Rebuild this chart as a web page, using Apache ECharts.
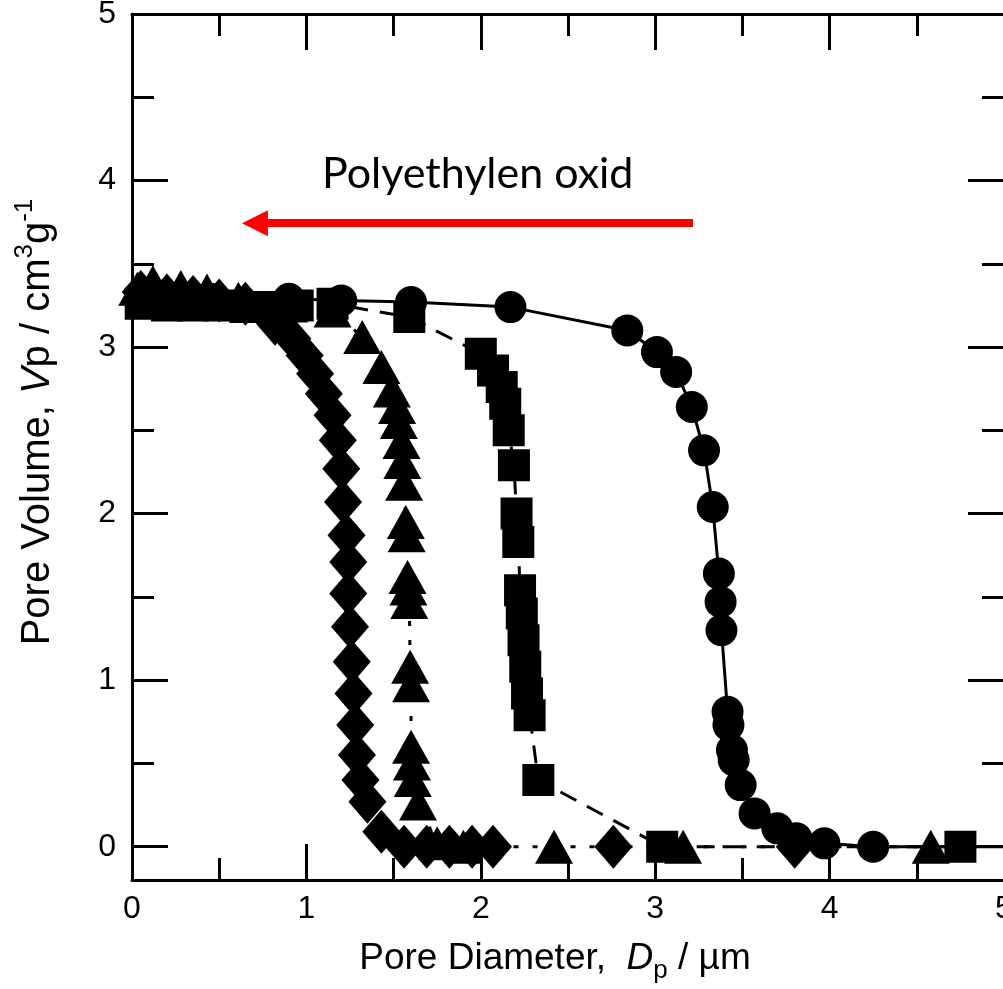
<!DOCTYPE html>
<html><head><meta charset="utf-8">
<script src="https://cdn.jsdelivr.net/npm/echarts@6/dist/echarts.min.js"></script>
<style>html,body{margin:0;padding:0;background:#fff}#c{width:1003px;height:989px}</style>
</head><body><div id="c"></div>
<script>
// ---- data (x = pore diameter in µm, y = pore volume in cm3/g) ----
const xMajorTicks = [0, 1, 2, 3, 4, 5];
const yMajorTicks = [0, 1, 2, 3, 4, 5];
const yMinorTicks = [0.5, 1.5, 2.5, 3.5, 4.5];

const circleData = [
  [0.05, 3.30], [0.45, 3.29], [0.90, 3.29], [1.20, 3.28], [1.60, 3.27], [2.17, 3.24],
  [2.84, 3.10], [3.01, 2.97], [3.12, 2.85], [3.21, 2.64], [3.28, 2.38], [3.33, 2.04],
  [3.365, 1.64], [3.375, 1.47], [3.38, 1.30], [3.415, 0.81], [3.42, 0.73], [3.44, 0.58],
  [3.45, 0.52], [3.49, 0.37], [3.57, 0.20], [3.70, 0.11], [3.81, 0.05], [3.97, 0.02],
  [4.25, 0.00], [5.20, 0.00]
];
const squareData = [
  [0.05, 3.26], [0.20, 3.25], [0.35, 3.25], [0.50, 3.25], [0.65, 3.24], [0.80, 3.24],
  [0.95, 3.25], [1.15, 3.26], [1.59, 3.18],
  [2.00, 2.96], [2.07, 2.86], [2.12, 2.76], [2.14, 2.66], [2.16, 2.50], [2.19, 2.29],
  [2.205, 2.00], [2.215, 1.83], [2.225, 1.54], [2.235, 1.40], [2.245, 1.24], [2.255, 1.08],
  [2.265, 0.92], [2.28, 0.79], [2.33, 0.40], [3.04, 0.00], [4.75, 0.00]
];
const triangleData = [
  [0.03, 3.35], [0.12, 3.39], [0.28, 3.36], [0.43, 3.34], [0.61, 3.29], [0.90, 3.25],
  [1.15, 3.22], [1.32, 3.06], [1.43, 2.88], [1.49, 2.74], [1.52, 2.64], [1.53, 2.55],
  [1.545, 2.43], [1.55, 2.31], [1.56, 2.18], [1.57, 1.95], [1.575, 1.87], [1.58, 1.62],
  [1.585, 1.55], [1.59, 1.47], [1.595, 1.08], [1.60, 0.97], [1.60, 0.60], [1.605, 0.50],
  [1.61, 0.40], [1.64, 0.26], [1.75, 0.02], [1.90, 0.00], [2.42, 0.00], [3.16, 0.00],
  [4.58, 0.00]
];
const diamondData = [
  [0.05, 3.33], [0.20, 3.31], [0.35, 3.30], [0.50, 3.28], [0.65, 3.26], [0.82, 3.14],
  [0.92, 3.05], [0.99, 2.95], [1.05, 2.84],
  [1.10, 2.72], [1.15, 2.59], [1.18, 2.44], [1.20, 2.27], [1.21, 2.07], [1.23, 1.87],
  [1.24, 1.71], [1.24, 1.52], [1.25, 1.32], [1.26, 1.11], [1.27, 0.92], [1.28, 0.73],
  [1.29, 0.55], [1.31, 0.40], [1.35, 0.27], [1.43, 0.09], [1.56, 0.00], [1.69, 0.00],
  [1.82, 0.00], [1.95, 0.00], [2.07, 0.00], [2.76, 0.00], [3.80, 0.00]
];
const arrowFrom = [3.217, 3.744];
const arrowTo = [0.705, 3.744];
const annotationText = 'Polyethylen oxid';

// ---- chart ----
const FONT = 'Liberation Sans, Arial, sans-serif';
const chart = echarts.init(document.getElementById('c'), null, {renderer: 'canvas'});

const black = '#000';
const axisLineStyle = {color: black, width: 3};
const tickStyle = {color: black, width: 3};

function yAxisDef(position, ticks, len, showLine, showLabel, extra) {
  return Object.assign({
    type: 'value', position: position, min: -0.2, max: 5,
    axisLine: {show: showLine, onZero: false, lineStyle: axisLineStyle},
    axisTick: {show: true, inside: true, length: len, lineStyle: tickStyle, customValues: ticks},
    axisLabel: showLabel ? {show: true, customValues: ticks, fontSize: 32, color: black, fontFamily: FONT, margin: 16}
                         : {show: false},
    splitLine: {show: false}
  }, extra || {});
}
function xAxisDef(position, showLabel, extra) {
  return Object.assign({
    type: 'value', position: position, min: 0, max: 5, interval: 1,
    axisLine: {show: true, onZero: false, lineStyle: axisLineStyle},
    axisTick: {show: true, inside: true, length: 36, lineStyle: tickStyle},
    minorTick: {show: true, splitNumber: 2, length: 22, lineStyle: tickStyle},
    axisLabel: showLabel ? {show: true, fontSize: 32, color: black, fontFamily: FONT, margin: 13,
                            showMaxLabel: true}
                         : {show: false},
    splitLine: {show: false}
  }, extra || {});
}

const option = {
  animation: false,
  backgroundColor: '#fff',
  grid: {left: 132, top: 14, right: -1, bottom: 109, containLabel: false, outerBoundsMode: 'none'},
  xAxis: [
    xAxisDef('bottom', true, {
      name: '{a|Pore Diameter,  }{i|D}{s|p}{a| / µm}',
      nameLocation: 'middle', nameGap: 54,
      nameTextStyle: {
        color: black, fontFamily: FONT, fontSize: 37, padding: [0, 26, 0, 0],
        rich: {
          a: {fontSize: 37, fontFamily: FONT, color: black, lineHeight: 50, verticalAlign: 'middle'},
          i: {fontSize: 37, fontFamily: FONT, color: black, fontStyle: 'italic', lineHeight: 50, verticalAlign: 'middle'},
          s: {fontSize: 26, fontFamily: FONT, color: black, lineHeight: 26, verticalAlign: 'bottom'}
        }
      }
    }),
    xAxisDef('top', false)
  ],
  yAxis: [
    yAxisDef('left', yMajorTicks, 36, true, true, {
      name: '{a|Pore Volume, }{i|V}{a|p / cm}{u|3}{a|g}{u|-1}',
      nameLocation: 'middle', nameGap: 68,
      nameTextStyle: {
        color: black, fontFamily: FONT, fontSize: 40, padding: [0, 0, 0, 50],
        rich: {
          a: {fontSize: 40, fontFamily: FONT, color: black, lineHeight: 52, verticalAlign: 'middle'},
          i: {fontSize: 40, fontFamily: FONT, color: black, fontStyle: 'italic', lineHeight: 52, verticalAlign: 'middle'},
          u: {fontSize: 26, fontFamily: FONT, color: black, lineHeight: 25, verticalAlign: 'top'}
        }
      }
    }),
    yAxisDef('left', yMinorTicks, 22, false, false),
    yAxisDef('right', yMajorTicks, 36, true, false),
    yAxisDef('right', yMinorTicks, 22, false, false)
  ],
  graphic: [{
    type: 'text', left: 322, top: 153, silent: true,
    style: {text: annotationText, font: '43px Lato, "Open Sans", sans-serif', fill: black}
  }],
  series: [
    {
      name: 'square', type: 'line', data: squareData, symbol: 'rect', symbolSize: 32,
      showAllSymbol: true, itemStyle: {color: black, opacity: 1}, clip: true,
      lineStyle: {color: black, width: 3, type: [18, 12]}, z: 2
    },
    {
      name: 'triangle', type: 'line', data: triangleData, symbol: 'triangle', symbolSize: [38, 34],
      showAllSymbol: true, itemStyle: {color: black, opacity: 1}, clip: true,
      lineStyle: {color: black, width: 3, type: [5, 14]}, z: 3
    },
    {
      name: 'diamond', type: 'scatter', data: diamondData, symbol: 'diamond', symbolSize: [38, 44],
      itemStyle: {color: black, opacity: 1}, z: 4
    },
    {
      name: 'circle', type: 'line', data: circleData, symbol: 'circle', symbolSize: 32,
      showAllSymbol: true, itemStyle: {color: black, opacity: 1}, clip: true,
      lineStyle: {color: black, width: 3}, z: 5,
      markLine: {
        silent: true, animation: false,
        symbol: ['none', 'triangle'], symbolSize: 26,
        label: {show: false},
        lineStyle: {color: '#ff0000', width: 8, type: 'solid', opacity: 1},
        itemStyle: {color: '#ff0000'},
        emphasis: {disabled: true},
        data: [[{coord: arrowFrom}, {coord: arrowTo}]]
      }
    }
  ]
};
chart.setOption(option);
</script>
</body></html>
